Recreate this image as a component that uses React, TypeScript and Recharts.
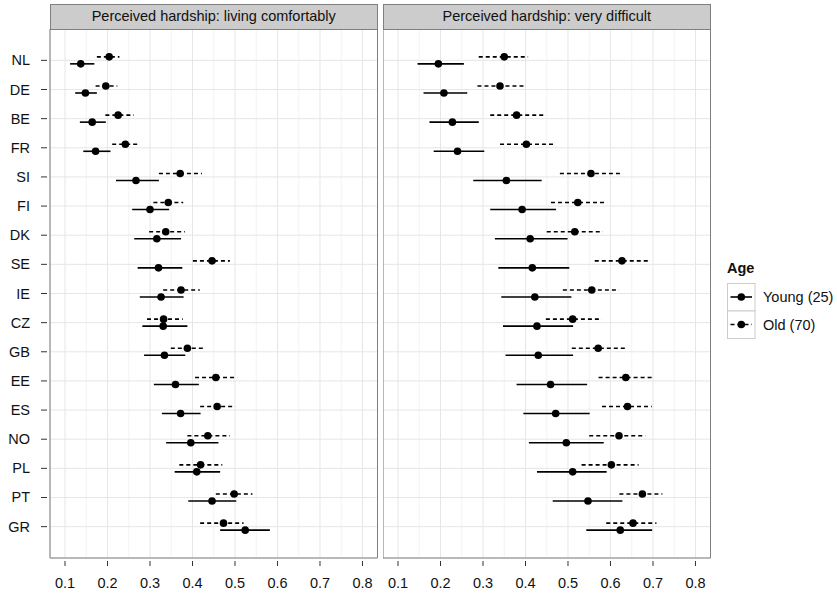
import { ScatterChart, Scatter, XAxis, YAxis, CartesianGrid, ErrorBar, ReferenceArea } from "recharts"

const countries = ["NL", "DE", "BE", "FR", "SI", "FI", "DK", "SE", "IE", "CZ", "GB", "EE", "ES", "NO", "PL", "PT", "GR"]

// Perceived hardship: living comfortably
const comfYoung = [0.137, 0.148, 0.164, 0.172, 0.267, 0.3, 0.316, 0.32, 0.326, 0.331, 0.334, 0.36, 0.372, 0.396, 0.41, 0.446, 0.524]
const comfYoungLo = [0.112, 0.124, 0.135, 0.143, 0.22, 0.258, 0.263, 0.271, 0.276, 0.282, 0.286, 0.309, 0.328, 0.338, 0.358, 0.39, 0.465]
const comfYoungHi = [0.169, 0.175, 0.196, 0.207, 0.321, 0.345, 0.373, 0.376, 0.379, 0.388, 0.383, 0.415, 0.419, 0.461, 0.465, 0.503, 0.582]
const comfOld = [0.204, 0.196, 0.225, 0.242, 0.371, 0.343, 0.337, 0.446, 0.373, 0.332, 0.388, 0.455, 0.458, 0.436, 0.419, 0.498, 0.473]
const comfOldLo = [0.175, 0.172, 0.195, 0.211, 0.321, 0.308, 0.298, 0.401, 0.331, 0.293, 0.349, 0.406, 0.418, 0.388, 0.369, 0.455, 0.418]
const comfOldHi = [0.228, 0.223, 0.262, 0.275, 0.422, 0.378, 0.382, 0.488, 0.417, 0.377, 0.429, 0.505, 0.5, 0.488, 0.47, 0.541, 0.52]

// Perceived hardship: very difficult
const diffYoung = [0.195, 0.208, 0.228, 0.24, 0.355, 0.392, 0.411, 0.416, 0.422, 0.427, 0.43, 0.459, 0.471, 0.496, 0.511, 0.547, 0.623]
const diffYoungLo = [0.146, 0.16, 0.174, 0.184, 0.277, 0.317, 0.328, 0.336, 0.343, 0.347, 0.353, 0.379, 0.395, 0.408, 0.427, 0.464, 0.543]
const diffYoungHi = [0.255, 0.263, 0.29, 0.303, 0.438, 0.472, 0.499, 0.503, 0.508, 0.512, 0.512, 0.545, 0.551, 0.584, 0.591, 0.628, 0.698]
const diffOld = [0.35, 0.34, 0.379, 0.402, 0.554, 0.523, 0.516, 0.627, 0.556, 0.511, 0.571, 0.636, 0.64, 0.62, 0.602, 0.675, 0.653]
const diffOldLo = [0.29, 0.287, 0.317, 0.34, 0.481, 0.46, 0.45, 0.563, 0.488, 0.448, 0.509, 0.572, 0.58, 0.55, 0.532, 0.621, 0.59]
const diffOldHi = [0.406, 0.401, 0.444, 0.468, 0.627, 0.59, 0.582, 0.691, 0.62, 0.578, 0.634, 0.699, 0.697, 0.682, 0.666, 0.722, 0.708]

const xTicks = [0.1, 0.2, 0.3, 0.4, 0.5, 0.6, 0.7, 0.8]
const xMinorTicks = [0.15, 0.25, 0.35, 0.45, 0.55, 0.65, 0.75]
const rowTicks = countries.map((_, i) => i + 1)

const X_DOMAIN: [number, number] = [0.0647, 0.8353]
const Y_DOMAIN: [number, number] = [-0.076, 18.076]
const DODGE = 0.12
const FONT = "'Liberation Sans', Arial, Helvetica, sans-serif"
const PANEL_W = 327.5
const H = 595

function toPoints(mean: number[], lo: number[], hi: number[], shift: number) {
  return countries.map((c, i) => ({
    country: c,
    x: mean[i],
    y: i + 1 + shift,
    err: [mean[i] - lo[i], hi[i] - mean[i]],
  }))
}

const Dot = (props: any) => <circle cx={props.cx} cy={props.cy} r={3.8} fill="#000" />

function CountryTick({ x, y, payload }: any) {
  return (
    <g>
      <line x1={x - 9} x2={x - 3} y1={y} y2={y} stroke="#333" strokeWidth={1} />
      <text x={x - 20} y={y} dy={5} textAnchor="end" fontSize={14.5} fontFamily={FONT} fill="#111">
        {countries[payload.value - 1]}
      </text>
    </g>
  )
}

function ValueTick({ x, y, payload }: any) {
  return (
    <g>
      <line x1={x} x2={x} y1={y + 3} y2={y + 8} stroke="#333" strokeWidth={1} />
      <text x={x} y={y + 30} textAnchor="middle" fontSize={14.5} fontFamily={FONT} fill="#111">
        {payload.value.toFixed(1)}
      </text>
    </g>
  )
}

function Strip({ left, label }: { left: number; label: string }) {
  return (
    <div
      style={{
        position: "absolute",
        left,
        top: 4,
        width: PANEL_W,
        height: 25.5,
        boxSizing: "border-box",
        background: "#cccccc",
        border: "1px solid #7f7f7f",
        fontFamily: FONT,
        fontSize: 14.5,
        lineHeight: "23px",
        textAlign: "center",
        color: "#111",
      }}
    >
      {label}
    </div>
  )
}

function Panel({
  young,
  old,
  showY,
}: {
  young: ReturnType<typeof toPoints>
  old: ReturnType<typeof toPoints>
  showY: boolean
}) {
  return (
    <ScatterChart
      width={PANEL_W + (showY ? 50 : 0)}
      height={H}
      margin={{ top: 29, right: 0, bottom: 0, left: 0 }}
    >
      <XAxis xAxisId="minor" type="number" dataKey="x" domain={X_DOMAIN} ticks={xMinorTicks} hide allowDataOverflow />
      <XAxis
        type="number"
        dataKey="x"
        domain={X_DOMAIN}
        ticks={xTicks}
        interval={0}
        height={37}
        tickSize={0}
        tickMargin={0}
        tickLine={false}
        axisLine={false}
        tick={<ValueTick />}
        allowDataOverflow
      />
      <YAxis
        type="number"
        dataKey="y"
        domain={Y_DOMAIN}
        ticks={rowTicks}
        interval={0}
        reversed
        width={showY ? 50 : 0}
        hide={!showY}
        tickSize={0}
        tickMargin={0}
        tickLine={false}
        axisLine={false}
        tick={<CountryTick />}
        allowDataOverflow
      />
      <CartesianGrid xAxisId="minor" horizontal={false} stroke="#f3f3f3" />
      <CartesianGrid stroke="#e6e6e6" />
      <Scatter name="Young (25)" data={young} shape={Dot} isAnimationActive={false}>
        <ErrorBar dataKey="err" direction="x" width={0} stroke="#000" strokeWidth={1.6} isAnimationActive={false} />
      </Scatter>
      <Scatter name="Old (70)" data={old} shape={Dot} isAnimationActive={false}>
        <ErrorBar
          dataKey="err"
          direction="x"
          width={0}
          stroke="#000"
          strokeWidth={1.6}
          strokeDasharray="4 3"
          isAnimationActive={false}
        />
      </Scatter>
      <ReferenceArea
        x1={X_DOMAIN[0]}
        x2={X_DOMAIN[1]}
        y1={Y_DOMAIN[0]}
        y2={Y_DOMAIN[1]}
        fill="none"
        fillOpacity={0}
        stroke="#7f7f7f"
        strokeWidth={1}
        ifOverflow="visible"
      />
    </ScatterChart>
  )
}

function AgeLegend() {
  return (
    <svg width={120} height={90} style={{ position: "absolute", left: 720, top: 255 }}>
      <text x={7} y={18} fontFamily={FONT} fontSize={14.5} fontWeight="bold" fill="#111">
        Age
      </text>
      <rect x={7.5} y={28.5} width={27.5} height={27.5} fill="#fff" stroke="#cccccc" />
      <line x1={10.5} x2={32} y1={42} y2={42} stroke="#000" strokeWidth={1.6} />
      <circle cx={21.3} cy={42} r={3.8} fill="#000" />
      <text x={43} y={47} fontFamily={FONT} fontSize={14.5} fill="#111">
        Young (25)
      </text>
      <rect x={7.5} y={56} width={27.5} height={27.5} fill="#fff" stroke="#cccccc" />
      <line x1={10.5} x2={32} y1={69.5} y2={69.5} stroke="#000" strokeWidth={1.6} strokeDasharray="4 3" />
      <circle cx={21.3} cy={69.5} r={3.8} fill="#000" />
      <text x={43} y={74.5} fontFamily={FONT} fontSize={14.5} fill="#111">
        Old (70)
      </text>
    </svg>
  )
}

export default function App() {
  return (
    <div style={{ position: "absolute", left: 0, top: 0, width: 837, height: H, background: "#fff" }}>
      <div style={{ position: "absolute", left: 0, top: 0 }}>
        <Panel
          young={toPoints(comfYoung, comfYoungLo, comfYoungHi, DODGE)}
          old={toPoints(comfOld, comfOldLo, comfOldHi, -DODGE)}
          showY
        />
      </div>
      <div style={{ position: "absolute", left: 383, top: 0 }}>
        <Panel
          young={toPoints(diffYoung, diffYoungLo, diffYoungHi, DODGE)}
          old={toPoints(diffOld, diffOldLo, diffOldHi, -DODGE)}
          showY={false}
        />
      </div>
      <Strip left={50} label="Perceived hardship: living comfortably" />
      <Strip left={383} label="Perceived hardship: very difficult" />
      <AgeLegend />
    </div>
  )
}
